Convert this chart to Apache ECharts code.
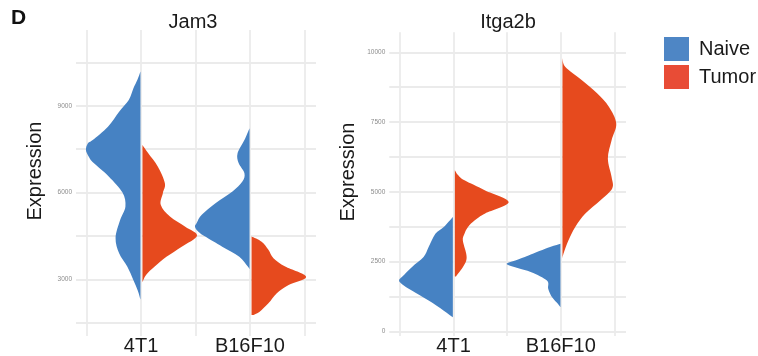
<!DOCTYPE html>
<html>
<head>
<meta charset="utf-8">
<script src="https://cdn.jsdelivr.net/npm/echarts@6/dist/echarts.min.js"></script>
<style>
html, body { margin: 0; padding: 0; background: #fff; }
#chart { width: 758px; height: 356px; }
</style>
</head>
<body>
<div id="chart"></div>
<script>
// 分组与类别
var panels = ['Jam3', 'Itga2b'];
var cellLines = ['4T1', 'B16F10'];
var groups = ['Naive', 'Tumor'];

// 刻度
var jam3Ticks = [3000, 6000, 9000];
var itga2bTicks = [0, 2500, 5000, 7500, 10000];

// Jam3 - 4T1 (Expression / 相对密度)
var jam3_4T1_naive_y = [10190, 9900, 9600, 9200, 8800, 8280, 7820, 7710, 7480, 7250, 7020, 6550, 6000, 5520, 5050, 4430, 3900, 3440, 2980, 2600, 2300];
var jam3_4T1_naive_d = [0, 3, 7, 11.5, 21, 32, 47, 51.7, 53.7, 51, 46, 31, 17.7, 14.8, 20, 24.5, 21, 13, 7, 2.5, 0];
var jam3_4T1_tumor_y = [7650, 7360, 6900, 6320, 5980, 5570, 5170, 4820, 4510, 4130, 3780, 3440, 3150, 2900];
var jam3_4T1_tumor_d = [0, 5.7, 15, 22, 20, 18, 27, 42, 53.5, 38.5, 23.5, 12, 3.5, 0];
// Jam3 - B16F10
var jam3_B16_naive_y = [8230, 7820, 7360, 7020, 6670, 6380, 6035, 5630, 5230, 4960, 4820, 4650, 4480, 4130, 3780, 3440, 3350];
var jam3_B16_naive_d = [0, 5, 11.7, 10.7, 5, 7, 16.7, 33.3, 46.7, 51.5, 53.3, 50, 43.3, 26.7, 10, 1.7, 0];
var jam3_B16_tumor_y = [4480, 4300, 4020, 3730, 3440, 3090, 2800, 2520, 2170, 1880, 1770];
var jam3_B16_tumor_d = [0, 10, 16.7, 21.7, 33.3, 54, 36.7, 25, 16.7, 8, 2];

// Itga2b - 4T1
var itga_4T1_naive_y = [4100, 3740, 3500, 3020, 2660, 2300, 1960, 1820, 1680, 1460, 1100, 740, 500];
var itga_4T1_naive_d = [0, 9, 17.3, 24, 29, 40.7, 50, 53.3, 50, 40.7, 24, 9, 0];
var itga_4T1_tumor_y = [5770, 5600, 5410, 5050, 4630, 4220, 3980, 3740, 3500, 3260, 2780, 2540, 2300, 2060, 1960];
var itga_4T1_tumor_d = [0, 3, 9.3, 29.3, 52, 29.3, 19.3, 12.7, 9.3, 7.7, 11, 11, 7.7, 3, 1];
// Itga2b - B16F10
var itga_B16_naive_y = [3140, 3020, 2720, 2560, 2420, 2280, 2120, 1820, 1520, 1220, 980, 860];
var itga_B16_naive_d = [0, 10, 30.7, 42, 51.7, 42, 28, 13, 11.7, 8, 2.3, 0];
var itga_B16_tumor_y = [9790, 9480, 9000, 8530, 8050, 7450, 6850, 6190, 5530, 5120, 4700, 4220, 3740, 3260, 2780, 2600];
var itga_B16_tumor_d = [0, 2.7, 19.3, 34.3, 46, 53.3, 48.7, 45, 48.7, 49.3, 37.7, 22.7, 12.7, 6, 1, 0];

var colors = { Naive: '#4682C3', Tumor: '#E64A1E' };
var legendColors = { Naive: '#4E86C5', Tumor: '#E84C36' };

var violins = {
	Jam3: {
		Naive: [{ y: jam3_4T1_naive_y, d: jam3_4T1_naive_d }, { y: jam3_B16_naive_y, d: jam3_B16_naive_d }],
		Tumor: [{ y: jam3_4T1_tumor_y, d: jam3_4T1_tumor_d }, { y: jam3_B16_tumor_y, d: jam3_B16_tumor_d }]
	},
	Itga2b: {
		Naive: [{ y: itga_4T1_naive_y, d: itga_4T1_naive_d }, { y: itga_B16_naive_y, d: itga_B16_naive_d }],
		Tumor: [{ y: itga_4T1_tumor_y, d: itga_4T1_tumor_d }, { y: itga_B16_tumor_y, d: itga_B16_tumor_d }]
	}
};

function fmt(p) {
	return p[0].toFixed(2) + ' ' + p[1].toFixed(2);
}

// 半边小提琴
function renderHalf(list, side) {
	return function (params, api) {
		var v = list[params.dataIndex];
		var cat = api.value(0);
		var dmax = Math.max.apply(null, v.d);
		var c0 = api.coord([cat, v.y[0]]);
		var c1 = api.coord([cat, v.y[v.y.length - 1]]);
		var cx = c0[0] + side;
		var pts = v.y.map(function (yy, i) {
			var p = api.coord([cat + side * 0.5 * v.d[i] / dmax, yy]);
			return [p[0] + side, p[1]];
		});
		var path = 'M' + fmt([cx, c0[1]]) + ' L' + fmt(pts[0]);
		for (var i = 0; i < pts.length - 1; i++) {
			var p0 = pts[i - 1] || pts[i], p1 = pts[i], p2 = pts[i + 1], p3 = pts[i + 2] || pts[i + 1];
			var a = [p1[0] + (p2[0] - p0[0]) / 6, p1[1] + (p2[1] - p0[1]) / 6];
			var b = [p2[0] - (p3[0] - p1[0]) / 6, p2[1] - (p3[1] - p1[1]) / 6];
			if (side < 0) { a[0] = Math.min(a[0], cx); b[0] = Math.min(b[0], cx); }
			else { a[0] = Math.max(a[0], cx); b[0] = Math.max(b[0], cx); }
			path += ' C' + fmt(a) + ' ' + fmt(b) + ' ' + fmt(p2);
		}
		path += ' L' + fmt([cx, c1[1]]) + ' Z';
		return {
			type: 'path',
			shape: { pathData: path },
			style: { fill: api.visual('color') }
		};
	};
}

var font = '"Liberation Sans", Arial, Helvetica, sans-serif';
var gridColor = '#EBEBEB';

// 框架网格 (竖线) 与数据网格 (横线)
var frames = [
	{ left: 86.7, top: 30, width: 217.6, height: 306 },
	{ left: 400, top: 32.3, width: 214.3, height: 306 }
];
var datas = [
	{ left: 76, top: 62.5, width: 240, height: 260.2, min: 1500, max: 10500, interval: 1500, ticks: jam3Ticks },
	{ left: 389.3, top: 52.3, width: 236.7, height: 279, min: 0, max: 10000, interval: 1250, ticks: itga2bTicks }
];

var grid = [], xAxis = [], yAxis = [], series = [];
panels.forEach(function (name, k) {
	var f = frames[k], g = datas[k];
	grid.push({ left: f.left, top: f.top, width: f.width, height: f.height });
	grid.push({ left: g.left, top: g.top, width: g.width, height: g.height });
	var gi = grid.length - 2;
	xAxis.push({
		gridIndex: gi, type: 'value', min: 0.5, max: 2.5, interval: 0.5,
		axisLine: { show: false }, axisTick: { show: false },
		splitLine: { show: true, lineStyle: { color: gridColor, width: 1.8 } },
		axisLabel: {
			margin: 0, fontSize: 20, color: '#1a1a1a', fontFamily: font,
			formatter: function (v) { return v === 1 ? cellLines[0] : (v === 2 ? cellLines[1] : ''); }
		}
	});
	yAxis.push({ gridIndex: gi, type: 'value', min: 0, max: 1, show: false });
	xAxis.push({ gridIndex: gi + 1, type: 'value', min: 0.4, max: 2.6, show: false });
	yAxis.push({
		gridIndex: gi + 1, type: 'value', min: g.min, max: g.max, interval: g.interval,
		axisLine: { show: false }, axisTick: { show: false },
		splitLine: { show: true, lineStyle: { color: gridColor, width: 1.8 } },
		axisLabel: {
			margin: 4, fontSize: 6.5, color: '#8c8c8c', fontFamily: font,
			formatter: function (v) { return g.ticks.indexOf(v) >= 0 ? String(v) : ''; }
		}
	});
	groups.forEach(function (grp) {
		series.push({
			name: grp,
			type: 'custom',
			xAxisIndex: gi + 1,
			yAxisIndex: gi + 1,
			itemStyle: { color: colors[grp] },
			data: [[1, 0], [2, 0]],
			renderItem: renderHalf(violins[name][grp], grp === 'Naive' ? -1 : 1),
			silent: true,
			animation: false
		});
	});
});

var myChart = echarts.init(document.getElementById('chart'));
var option = {
	animation: false,
	backgroundColor: '#ffffff',
	grid: grid,
	xAxis: xAxis,
	yAxis: yAxis,
	series: series,
	legend: {
		orient: 'vertical',
		left: 664,
		top: 37,
		padding: 0,
		itemWidth: 25,
		itemHeight: 24,
		itemGap: 4,
		icon: 'rect',
		textStyle: { fontSize: 20, color: '#1a1a1a', fontFamily: font, padding: [0, 0, 0, 5] },
		data: groups.map(function (grp) {
			return { name: grp, itemStyle: { color: legendColors[grp] } };
		})
	},
	graphic: [
		{ type: 'text', x: 11, y: 18, style: { text: 'D', font: 'bold 21px ' + font, fill: '#111', align: 'left', verticalAlign: 'middle' } },
		{ type: 'text', x: 193, y: 22, style: { text: panels[0], font: '20px ' + font, fill: '#1a1a1a', align: 'center', verticalAlign: 'middle' } },
		{ type: 'text', x: 508, y: 22, style: { text: panels[1], font: '20px ' + font, fill: '#1a1a1a', align: 'center', verticalAlign: 'middle' } },
		{ type: 'text', x: 35, y: 171, rotation: Math.PI / 2, style: { text: 'Expression', font: '20px ' + font, fill: '#1a1a1a', align: 'center', verticalAlign: 'middle' } },
		{ type: 'text', x: 348, y: 172, rotation: Math.PI / 2, style: { text: 'Expression', font: '20px ' + font, fill: '#1a1a1a', align: 'center', verticalAlign: 'middle' } }
	]
};
myChart.setOption(option);
</script>
</body>
</html>
